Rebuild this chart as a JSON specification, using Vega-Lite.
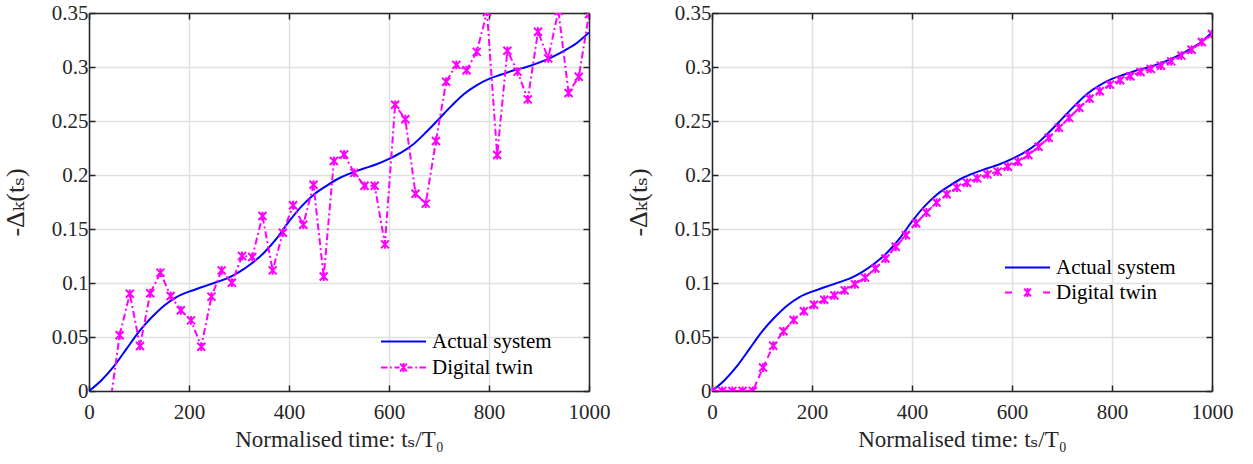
{
  "$schema": "https://vega.github.io/schema/vega-lite/v6.json",
  "background": "white",
  "padding": {"left": 2, "top": 2, "right": 5, "bottom": 5},
  "bounds": "flush",
  "spacing": 123,
  "config": {
    "font": "Liberation Serif, Times New Roman, DejaVu Serif, serif",
    "view": {"stroke": null},
    "axis": {
      "labelFont": "Liberation Serif, Times New Roman, DejaVu Serif, serif", "labelFontSize": 21, "labelColor": "#262626",
      "labelFlush": false, "labelOverlap": false,
      "titleFont": "Liberation Serif, Times New Roman, DejaVu Serif, serif", "titleFontSize": 23, "titleFontWeight": "normal", "titleColor": "#262626",
      "gridColor": "#e0e0e0", "gridWidth": 1.5, "gridOpacity": 1,
      "domainColor": "#262626", "domainWidth": 1.5,
      "tickColor": "#262626", "tickWidth": 1.5, "tickSize": -6
    },
    "legend": {"labelFont": "Liberation Serif, Times New Roman, DejaVu Serif, serif", "labelFontSize": 21, "labelColor": "#000000"}
  },
  "datasets": {
    "actual": [
      {"x": 0, "y": 0}, {"x": 25, "y": 0.010}, {"x": 50, "y": 0.023}, {"x": 75, "y": 0.039},
      {"x": 100, "y": 0.055}, {"x": 125, "y": 0.068}, {"x": 150, "y": 0.079}, {"x": 175, "y": 0.087},
      {"x": 200, "y": 0.092}, {"x": 225, "y": 0.096}, {"x": 250, "y": 0.100}, {"x": 275, "y": 0.104},
      {"x": 300, "y": 0.110}, {"x": 325, "y": 0.118}, {"x": 350, "y": 0.128}, {"x": 375, "y": 0.141},
      {"x": 400, "y": 0.157}, {"x": 425, "y": 0.171}, {"x": 450, "y": 0.182}, {"x": 475, "y": 0.190},
      {"x": 500, "y": 0.197}, {"x": 525, "y": 0.202}, {"x": 550, "y": 0.206}, {"x": 575, "y": 0.210},
      {"x": 600, "y": 0.215}, {"x": 625, "y": 0.221}, {"x": 650, "y": 0.229}, {"x": 675, "y": 0.240},
      {"x": 700, "y": 0.252}, {"x": 725, "y": 0.264}, {"x": 750, "y": 0.275}, {"x": 775, "y": 0.283},
      {"x": 800, "y": 0.289}, {"x": 825, "y": 0.293}, {"x": 850, "y": 0.297}, {"x": 875, "y": 0.300},
      {"x": 900, "y": 0.304}, {"x": 925, "y": 0.309}, {"x": 950, "y": 0.315}, {"x": 975, "y": 0.322},
      {"x": 1000, "y": 0.332}
    ],
    "twinLeft": [
      {"x": 40.82, "y": -0.017}, {"x": 61.22, "y": 0.0516}, {"x": 81.63, "y": 0.090}, {"x": 102.04, "y": 0.0417},
      {"x": 122.45, "y": 0.0905}, {"x": 142.86, "y": 0.1096}, {"x": 163.27, "y": 0.088}, {"x": 183.67, "y": 0.0747},
      {"x": 204.08, "y": 0.0654}, {"x": 224.49, "y": 0.041}, {"x": 244.90, "y": 0.0874}, {"x": 265.31, "y": 0.1117},
      {"x": 285.71, "y": 0.1003}, {"x": 306.12, "y": 0.125}, {"x": 326.53, "y": 0.124}, {"x": 346.94, "y": 0.162},
      {"x": 367.35, "y": 0.1117}, {"x": 387.76, "y": 0.1466}, {"x": 408.16, "y": 0.172}, {"x": 428.57, "y": 0.154},
      {"x": 448.98, "y": 0.191}, {"x": 469.39, "y": 0.106}, {"x": 489.80, "y": 0.213}, {"x": 510.20, "y": 0.219},
      {"x": 530.61, "y": 0.202}, {"x": 551.02, "y": 0.190}, {"x": 571.43, "y": 0.190}, {"x": 591.84, "y": 0.1358},
      {"x": 612.24, "y": 0.265}, {"x": 632.65, "y": 0.2516}, {"x": 653.06, "y": 0.1827}, {"x": 673.47, "y": 0.1735},
      {"x": 693.88, "y": 0.2315}, {"x": 714.29, "y": 0.2864}, {"x": 734.69, "y": 0.302}, {"x": 755.10, "y": 0.297},
      {"x": 775.51, "y": 0.314}, {"x": 795.92, "y": 0.351}, {"x": 816.33, "y": 0.2185}, {"x": 836.73, "y": 0.315},
      {"x": 857.14, "y": 0.2957}, {"x": 877.55, "y": 0.270}, {"x": 897.96, "y": 0.3327}, {"x": 918.37, "y": 0.308},
      {"x": 938.78, "y": 0.352}, {"x": 959.18, "y": 0.276}, {"x": 979.59, "y": 0.291}, {"x": 1000, "y": 0.349}
    ],
    "twinRight": [
      {"x": 0, "y": 0}, {"x": 20.41, "y": 0}, {"x": 40.82, "y": 0}, {"x": 61.22, "y": 0}, {"x": 81.63, "y": 0},
      {"x": 102.04, "y": 0.0217}, {"x": 122.45, "y": 0.0419}, {"x": 142.86, "y": 0.0553}, {"x": 163.27, "y": 0.0658},
      {"x": 183.67, "y": 0.0739}, {"x": 204.08, "y": 0.0798}, {"x": 224.49, "y": 0.0845}, {"x": 244.90, "y": 0.0885},
      {"x": 265.31, "y": 0.0932}, {"x": 285.71, "y": 0.0988}, {"x": 306.12, "y": 0.105}, {"x": 326.53, "y": 0.1134},
      {"x": 346.94, "y": 0.1227}, {"x": 367.35, "y": 0.1335}, {"x": 387.76, "y": 0.1442}, {"x": 408.16, "y": 0.1553},
      {"x": 428.57, "y": 0.1653}, {"x": 448.98, "y": 0.1745}, {"x": 469.39, "y": 0.1822}, {"x": 489.80, "y": 0.1883},
      {"x": 510.20, "y": 0.1929}, {"x": 530.61, "y": 0.1969}, {"x": 551.02, "y": 0.2006}, {"x": 571.43, "y": 0.2031},
      {"x": 591.84, "y": 0.2077}, {"x": 612.24, "y": 0.2123}, {"x": 632.65, "y": 0.2185}, {"x": 653.06, "y": 0.2262},
      {"x": 673.47, "y": 0.2345}, {"x": 693.88, "y": 0.2437}, {"x": 714.29, "y": 0.2529}, {"x": 734.69, "y": 0.2622},
      {"x": 755.10, "y": 0.2708}, {"x": 775.51, "y": 0.2775}, {"x": 795.92, "y": 0.2837}, {"x": 816.33, "y": 0.2877},
      {"x": 836.73, "y": 0.2914}, {"x": 857.14, "y": 0.2954}, {"x": 877.55, "y": 0.2982}, {"x": 897.96, "y": 0.3012},
      {"x": 918.37, "y": 0.3052}, {"x": 938.78, "y": 0.3105}, {"x": 959.18, "y": 0.316}, {"x": 979.59, "y": 0.3231},
      {"x": 1000, "y": 0.3305}
    ]
  },
  "resolve": {"scale": {"color": "independent"}, "legend": {"color": "independent"}},
  "hconcat": [
    {
      "width": 500, "height": 378,
      "layer": [
        {
          "data": {"name": "actual"},
          "mark": {"type": "line", "interpolate": "monotone", "strokeWidth": 2, "clip": true},
          "encoding": {
            "x": {"field": "x", "type": "quantitative", "scale": {"domain": [0, 1000], "nice": false},
                  "axis": {"orient": "bottom", "values": [0, 200, 400, 600, 800, 1000], "format": "d", "grid": true, "labelPadding": 16, "title": "Normalised time: tₛ/T₀", "titlePadding": 6}},
            "y": {"field": "y", "type": "quantitative", "scale": {"domain": [0, 0.35], "nice": false, "zero": false},
                  "axis": {"orient": "left", "values": [0, 0.05, 0.1, 0.15, 0.2, 0.25, 0.3, 0.35], "format": "~g", "grid": true, "labelPadding": 7, "title": "-Δₖ(tₛ)", "titleFontSize": 26, "titlePadding": 23}},
            "color": {"datum": "Actual system", "type": "nominal",
                      "scale": {"domain": ["Actual system", "Digital twin"], "range": ["#0000ff", "#ff00ff"]},
                      "legend": {"orient": "none", "legendX": 304, "legendY": 318, "title": null, "padding": 0,
                                 "symbolSize": 100, "symbolStrokeWidth": 2, "labelOffset": 18, "rowPadding": 4,
                                 "labelFontSize": 21,
                                 "encode": {"symbols": {"update": {"fill": {"value": "transparent"},
                                   "shape": {"signal": "datum.label === 'Digital twin' ? 'M-4.5,0H-3.2M-2.7,0H-2.35M-1.8,0H-0.8M-0.68,-0.77L0.68,0.77M-0.68,0.77L0.68,-0.77M0,-0.9L0,0.9M0.8,0H1.8M2.35,0H2.7M3.2,0H4.5' : 'M-4.5,0H4.5'"}}}}}}
          }
        },
        {
          "data": {"name": "twinLeft"},
          "mark": {"type": "line", "strokeWidth": 2, "strokeDash": [7, 3, 2, 3], "clip": true},
          "encoding": {
            "x": {"field": "x", "type": "quantitative", "axis": {"orient": "top", "values": [0, 200, 400, 600, 800, 1000], "labels": false, "grid": false, "title": null}},
            "y": {"field": "y", "type": "quantitative", "axis": {"orient": "right", "values": [0, 0.05, 0.1, 0.15, 0.2, 0.25, 0.3, 0.35], "labels": false, "grid": false, "title": null}},
            "color": {"datum": "Digital twin", "type": "nominal"}
          }
        },
        {
          "data": {"name": "twinLeft"},
          "mark": {"type": "point", "shape": "M-1,-1L1,1M-1,1L1,-1M0,-1.1L0,1.1", "filled": false, "strokeWidth": 2, "size": 64, "color": "#ff00ff", "opacity": 1, "clip": true},
          "encoding": {
            "x": {"field": "x", "type": "quantitative", "axis": null},
            "y": {"field": "y", "type": "quantitative", "axis": null}
          }
        }
      ],
      "resolve": {"axis": {"x": "independent", "y": "independent"}}
    },
    {
      "width": 500, "height": 378,
      "layer": [
        {
          "data": {"name": "actual"},
          "mark": {"type": "line", "interpolate": "monotone", "strokeWidth": 2, "clip": true},
          "encoding": {
            "x": {"field": "x", "type": "quantitative", "scale": {"domain": [0, 1000], "nice": false},
                  "axis": {"orient": "bottom", "values": [0, 200, 400, 600, 800, 1000], "format": "d", "grid": true, "labelPadding": 16, "title": "Normalised time: tₛ/T₀", "titlePadding": 6}},
            "y": {"field": "y", "type": "quantitative", "scale": {"domain": [0, 0.35], "nice": false, "zero": false},
                  "axis": {"orient": "left", "values": [0, 0.05, 0.1, 0.15, 0.2, 0.25, 0.3, 0.35], "format": "~g", "grid": true, "labelPadding": 7, "title": "-Δₖ(tₛ)", "titleFontSize": 26, "titlePadding": 23}},
            "color": {"datum": "Actual system", "type": "nominal",
                      "scale": {"domain": ["Actual system", "Digital twin"], "range": ["#0000ff", "#ff00ff"]},
                      "legend": {"orient": "none", "legendX": 305, "legendY": 244, "title": null, "padding": 0,
                                 "symbolSize": 100, "symbolStrokeWidth": 2, "labelOffset": 18, "rowPadding": 3,
                                 "labelFontSize": 21,
                                 "encode": {"symbols": {"update": {"fill": {"value": "transparent"},
                                   "shape": {"signal": "datum.label === 'Digital twin' ? 'M-4.5,0H-3.1M-0.68,-0.77L0.68,0.77M-0.68,0.77L0.68,-0.77M0,-0.9L0,0.9M3.1,0H4.5' : 'M-4.5,0H4.5'"}}}}}}
          }
        },
        {
          "data": {"name": "twinRight"},
          "mark": {"type": "line", "strokeWidth": 2, "strokeDash": [7, 4], "clip": true},
          "encoding": {
            "x": {"field": "x", "type": "quantitative", "axis": {"orient": "top", "values": [0, 200, 400, 600, 800, 1000], "labels": false, "grid": false, "title": null}},
            "y": {"field": "y", "type": "quantitative", "axis": {"orient": "right", "values": [0, 0.05, 0.1, 0.15, 0.2, 0.25, 0.3, 0.35], "labels": false, "grid": false, "title": null}},
            "color": {"datum": "Digital twin", "type": "nominal"}
          }
        },
        {
          "data": {"name": "twinRight"},
          "mark": {"type": "point", "shape": "M-1,-1L1,1M-1,1L1,-1M0,-1.1L0,1.1", "filled": false, "strokeWidth": 2, "size": 64, "color": "#ff00ff", "opacity": 1, "clip": true},
          "encoding": {
            "x": {"field": "x", "type": "quantitative", "axis": null},
            "y": {"field": "y", "type": "quantitative", "axis": null}
          }
        }
      ],
      "resolve": {"axis": {"x": "independent", "y": "independent"}}
    }
  ]
}
